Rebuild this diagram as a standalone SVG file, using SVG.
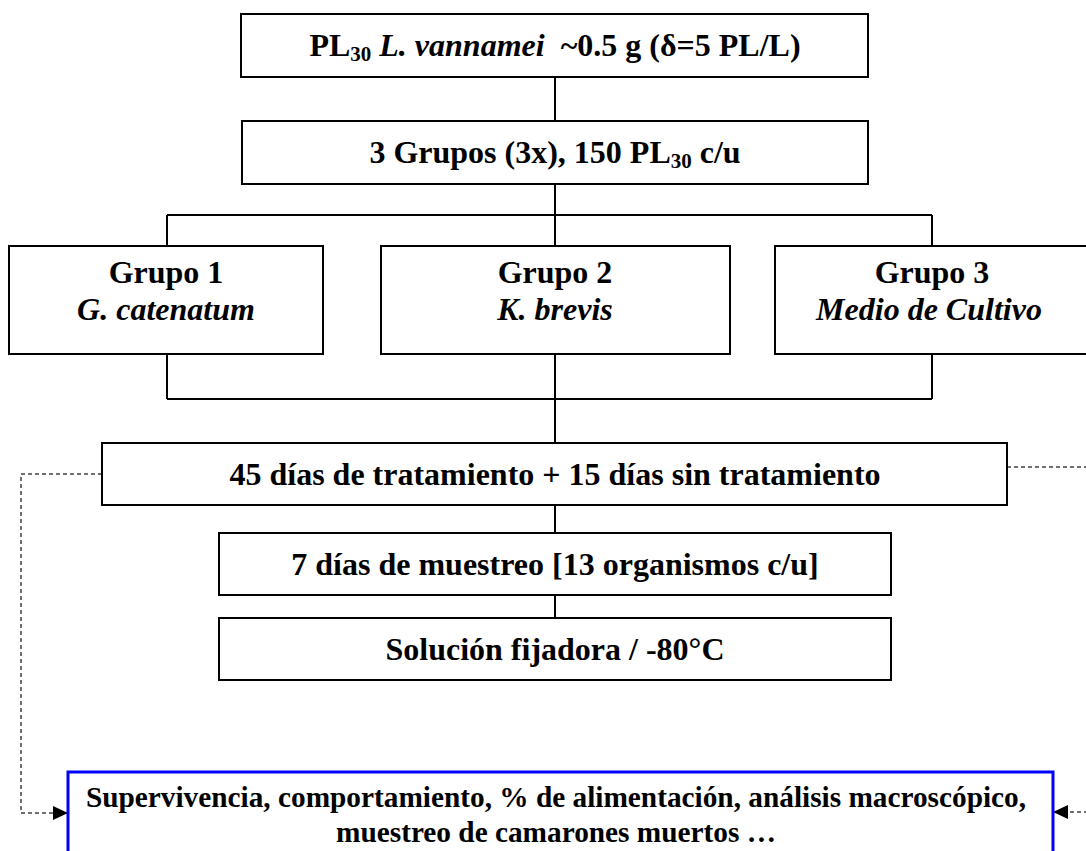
<svg xmlns="http://www.w3.org/2000/svg" width="1086" height="851" viewBox="0 0 1086 851">
<defs>
<style>
.box{fill:#fff;stroke:#000;stroke-width:2}
.blue{fill:#fff;stroke:#0000ff;stroke-width:3}
.t{font-family:"Liberation Serif","Times New Roman",serif;font-weight:bold;font-size:32px;fill:#000;text-anchor:middle}
.ts{font-family:"Liberation Serif","Times New Roman",serif;font-weight:bold;font-size:29.3px;fill:#000;text-anchor:middle}
.i{font-style:italic}
.ln{fill:none;stroke:#000;stroke-width:2}
.dash{fill:none;stroke:#404040;stroke-width:1.5;stroke-dasharray:4 3}
</style>
<marker id="ah" viewBox="0 0 10 10" refX="10" refY="5" markerWidth="15" markerHeight="14" markerUnits="userSpaceOnUse" orient="auto" preserveAspectRatio="none">
<path d="M0,0 L10,5 L0,10 Z" fill="#000"/>
</marker>
</defs>
<g id="connectors">
<path class="ln" d="M555,77 V121"/>
<path class="ln" d="M555,184 V215 M167,215 H932 M167,215 V246 M555,215 V246 M932,215 V246"/>
<path class="ln" d="M167,354 V399 M555,354 V399 M932,354 V399 M167,399 H932 M555,399 V443"/>
<path class="ln" d="M555,505 V533 M555,595 V618"/>
<path class="dash" d="M102,474 H21 V813 H68" marker-end="url(#ah)"/>
<path class="dash" d="M1007,467 H1092 V812 H1053" marker-end="url(#ah)"/>
</g>
<g id="n1">
<rect class="box" x="241" y="14" width="627" height="63"/>
<text class="t" x="555" y="56">PL<tspan font-size="21" dy="5">30</tspan><tspan dy="-5"> </tspan><tspan class="i">L. vannamei</tspan>&#160; ~0.5 g (δ=5 PL/L)</text>
</g>
<g id="n2">
<rect class="box" x="242" y="121" width="626" height="63"/>
<text class="t" x="555" y="163">3 Grupos (3x), 150 PL<tspan font-size="21" dy="5">30</tspan><tspan dy="-5"> c/u</tspan></text>
</g>
<g id="g1">
<rect class="box" x="9" y="246" width="314" height="108"/>
<text class="t" x="166" y="283">Grupo 1</text>
<text class="t i" x="166" y="320">G. catenatum</text>
</g>
<g id="g2">
<rect class="box" x="381" y="246" width="349" height="108"/>
<text class="t" x="555" y="283">Grupo 2</text>
<text class="t i" x="555" y="320">K. brevis</text>
</g>
<g id="g3">
<rect class="box" x="775" y="246" width="314" height="108"/>
<text class="t" x="932" y="283">Grupo 3</text>
<text class="t i" x="929" y="320">Medio de Cultivo</text>
</g>
<g id="n45">
<rect class="box" x="102" y="443" width="905" height="62"/>
<text class="t" x="555" y="485">45 días de tratamiento + 15 días sin tratamiento</text>
</g>
<g id="n7">
<rect class="box" x="219" y="533" width="672" height="62"/>
<text class="t" x="555" y="575">7 días de muestreo [13 organismos c/u]</text>
</g>
<g id="nsol">
<rect class="box" x="219" y="618" width="672" height="62"/>
<text class="t" x="555" y="660">Solución fijadora / -80°C</text>
</g>
<g id="nres">
<rect class="blue" x="68" y="772" width="985" height="90"/>
<text class="ts" x="556" y="807">Supervivencia, comportamiento, % de alimentación, análisis macroscópico,</text>
<text class="ts" x="556" y="842">muestreo de camarones muertos …</text>
</g>
</svg>
